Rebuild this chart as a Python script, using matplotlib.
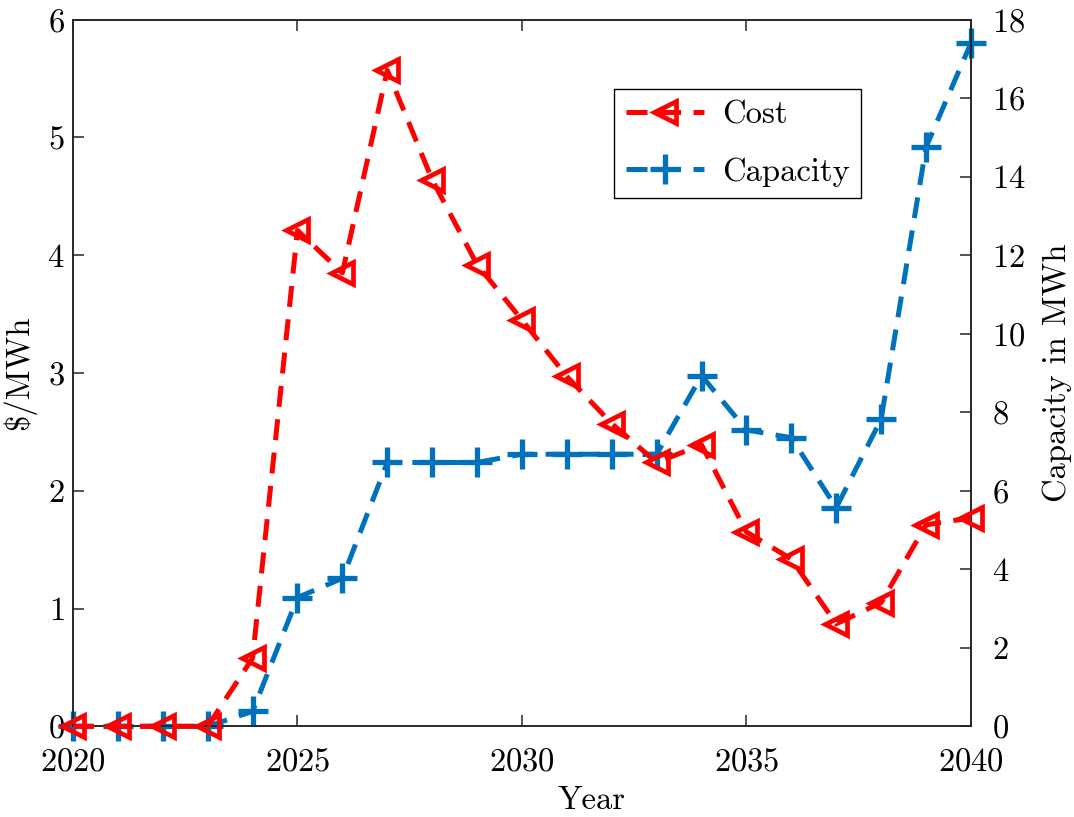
import numpy as np
import matplotlib
matplotlib.use('Agg')
import matplotlib.pyplot as plt

plt.rcParams['font.family'] = ['cmr10', 'DejaVu Serif']
plt.rcParams['axes.formatter.use_mathtext'] = True
plt.rcParams['font.size'] = 23.5

years = list(range(2020, 2041))
# $/MWh, left axis
cost = [0, 0, 0, 0, 0.58, 4.21, 3.85, 5.57, 4.64, 3.92, 3.45, 2.97, 2.57,
        2.24, 2.39, 1.65, 1.42, 0.87, 1.05, 1.71, 1.77]
# MWh, right axis
capacity = [0, 0, 0, 0, 0.38, 3.28, 3.77, 6.72, 6.72, 6.72, 6.93, 6.93, 6.93,
            6.93, 8.93, 7.55, 7.35, 5.57, 7.82, 14.75, 17.40]

red = (1, 0, 0)
blue = (0, 0.447, 0.741)
axcol = (0.15, 0.15, 0.15)
dash = (0, (4.2, 2.5))

fig = plt.figure(figsize=(10.74, 8.17), dpi=100)
ax = fig.add_axes([0.068, 0.111, 0.836, 0.865])
ax2 = ax.twinx()

l2, = ax2.plot(years, capacity, color=blue, lw=3.6, ls=dash,
               marker='+', ms=22, mew=3.8, clip_on=False, zorder=2)
ax2.set_ylim(0, 18)
ax2.set_yticks(np.arange(0, 19, 2))
ax2.set_ylabel('Capacity in MWh', labelpad=12)

ax.set_zorder(ax2.get_zorder() + 1)
ax.patch.set_visible(False)
l1, = ax.plot(years, cost, color=red, lw=3.6, ls=dash,
              marker='<', ms=16, mew=3.4, mfc='none', clip_on=False, zorder=3)
ax.set_xlim(2020, 2040)
ax.set_ylim(0, 6)
ax.set_xticks([2020, 2025, 2030, 2035, 2040])
ax.set_yticks(range(0, 7))
ax.set_xlabel('Year')
ax.xaxis.set_label_coords(0.578, -0.085)
ax.set_ylabel(r'\$/MWh', labelpad=8)

for a in (ax, ax2):
    for s in a.spines.values():
        s.set_color(axcol)
        s.set_linewidth(1.2)
ax.tick_params(axis='x', direction='in', top=True, length=8, width=1.1,
               color=axcol, pad=15)
ax.tick_params(axis='y', direction='in', length=8, width=1.1, color=axcol, pad=6)
ax2.tick_params(axis='y', direction='in', length=8, width=1.1, color=axcol, pad=15)

leg = fig.legend([l1, l2], ['Cost', 'Capacity'], loc='upper left',
                 bbox_to_anchor=(0.572, 0.891), fancybox=False, framealpha=1,
                 edgecolor='black', handlelength=2.4, labelspacing=0.85,
                 borderpad=0.35, handletextpad=0.55, borderaxespad=0)
leg.get_frame().set_linewidth(1.0)

fig.savefig('out.png', dpi=100)
